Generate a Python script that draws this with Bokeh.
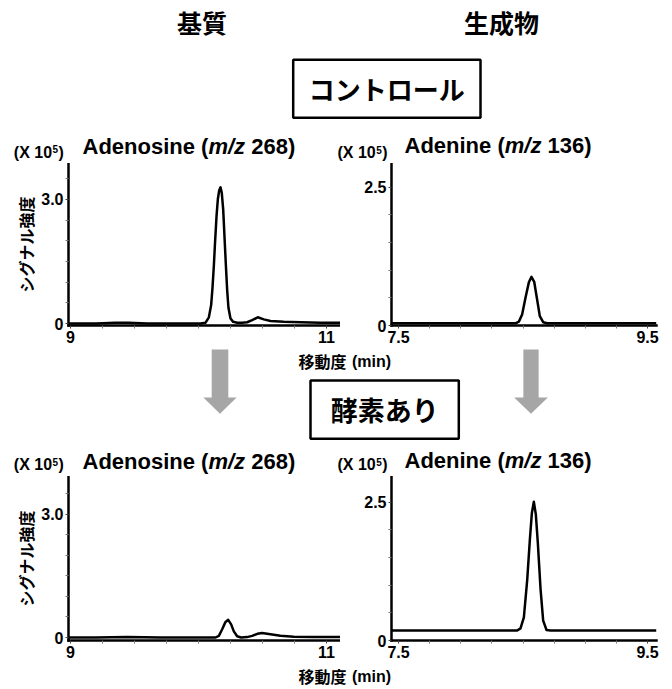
import math
from bokeh.plotting import figure
from bokeh.models import Range1d, FixedTicker, Label
from bokeh.layouts import column, row
from bokeh.embed import file_html
from bokeh.resources import INLINE

# ---------------- data ----------------
column_headers = ["基質", "生成物"]
condition_labels = ["コントロール", "酵素あり"]
compound_names = ["Adenosine", "Adenine"]
mz_values = ["268", "136"]
x_label_jp = "移動度"
x_label_unit = "(min)"
y_label = "シグナル強度"
scale_text = ["(X 10", "5", ")"]

ado_x_ticks = [9.0, 11.0]
ado_x_tick_labels = ["9", "11"]
ado_x_minor = [9.25, 9.5, 9.75, 10.0, 10.25, 10.5, 10.75]
ado_y_ticks = [0.0, 3.0]
ado_y_tick_labels = ["0", "3.0"]
ado_y_minor = [0.5, 1.0, 1.5, 2.0, 2.5, 3.5]

ade_x_ticks = [7.5, 9.5]
ade_x_tick_labels = ["7.5", "9.5"]
ade_x_minor = [7.75, 8.0, 8.25, 8.5, 8.75, 9.0, 9.25]
ade_y_ticks = [0.0, 2.5]
ade_y_tick_labels = ["0", "2.5"]
ade_y_minor = [0.5, 1.0, 1.5, 2.0]

# control: adenosine (m/z 268), intensity x 10^5
ado_ctrl_time = [8.984, 9.20, 9.35, 9.45, 9.60, 9.80, 10.016, 10.055, 10.081,
                 10.099, 10.109, 10.120, 10.130, 10.141, 10.151, 10.162, 10.172,
                 10.182, 10.193, 10.203, 10.214, 10.224, 10.234, 10.250, 10.271,
                 10.302, 10.340, 10.380, 10.419, 10.463, 10.510, 10.5625, 10.667,
                 10.797, 10.953, 11.109]
ado_ctrl_int = [0.00, 0.00, 0.02, 0.02, 0.00, 0.00, 0.00, 0.02, 0.15,
                0.45, 0.85, 1.40, 2.00, 2.60, 3.00, 3.22, 3.29,
                3.15, 2.75, 2.10, 1.40, 0.80, 0.38, 0.12, 0.04,
                0.02, 0.02, 0.03, 0.08, 0.15, 0.10, 0.06, 0.04,
                0.03, 0.02, 0.02]

# control: adenine (m/z 136)
ade_ctrl_time = [7.444, 7.70, 7.90, 8.10, 8.30, 8.440, 8.467, 8.493, 8.520,
                 8.547, 8.568, 8.590, 8.614, 8.635, 8.662, 8.694, 8.90, 9.10,
                 9.30, 9.572]
ade_ctrl_int = [0.04, 0.04, 0.04, 0.04, 0.04, 0.04, 0.07, 0.20, 0.50,
                0.78, 0.88, 0.79, 0.46, 0.17, 0.06, 0.04, 0.04, 0.04,
                0.04, 0.04]

# with enzyme: adenosine (m/z 268)
ado_enz_time = [8.984, 9.20, 9.443, 9.70, 9.95, 10.133, 10.159, 10.185, 10.211,
                10.232, 10.255, 10.276, 10.302, 10.333, 10.380, 10.419, 10.460,
                10.497, 10.5625, 10.640, 10.745, 10.900, 11.109]
ado_enz_int = [0.00, 0.00, 0.01, 0.00, 0.00, 0.00, 0.04, 0.20, 0.38,
               0.43, 0.32, 0.15, 0.03, 0.00, 0.01, 0.04, 0.09,
               0.11, 0.08, 0.04, 0.02, 0.01, 0.01]

# with enzyme: adenine (m/z 136)
ade_enz_time = [7.444, 7.70, 7.95, 8.20, 8.40, 8.453, 8.480, 8.507, 8.534,
                8.555, 8.571, 8.587, 8.603, 8.619, 8.641, 8.662, 8.689, 8.721,
                8.90, 9.20, 9.572]
ade_enz_int = [0.18, 0.18, 0.18, 0.18, 0.18, 0.18, 0.22, 0.42, 1.10,
               1.82, 2.30, 2.51, 2.28, 1.77, 0.93, 0.36, 0.19, 0.18,
               0.18, 0.18, 0.18]

# ---------------- styling helpers ----------------
LAT = "Liberation Sans"
CJK = "Noto Sans CJK JP"
ARROW_GREY = "#a6a6a6"
PAGE_W = 670
MID_FIX = -1.5  # small correction of the "middle" text anchor

# Arial/Liberation Sans Bold advance widths (per 1000 em)
W_BOLD = {" ": 278, "(": 333, ")": 333, "/": 278, "A": 722, "X": 667,
          "d": 611, "e": 556, "i": 278, "m": 889, "n": 611, "o": 611,
          "s": 556, "z": 500}
for _d in "0123456789":
    W_BOLD[_d] = 556


def tw(s, size):
    return sum(W_BOLD.get(c, 556) for c in s) * size / 1000.0


def add_label(p, x, y, text, size, font=LAT, style="bold", align="left", angle=0.0):
    # y is the vertical middle of the text
    p.add_layout(Label(x=x, y=y + MID_FIX, text=text, text_font=font,
                       text_font_size=f"{size}px", text_font_style=style,
                       text_align=align, text_baseline="middle", angle=angle,
                       text_color="black"))


def add_latin(p, x, y_base, text, size, style="bold", align="left"):
    # place latin text by its alphabetic baseline
    add_label(p, x, y_base - 0.35 * size, text, size, font=LAT, style=style, align=align)


def make_panel(box, frame, xcal, ycal, xticks, xtl, xminor, yticks, ytl, yminor,
               time, inten, with_ylabel):
    fx, fy, w, h = box
    L, R, T, B = frame
    xv, xpx, xppu = xcal
    yv, ypx, yppu = ycal
    x0 = xv - (xpx - L) / xppu
    x1 = xv + (R - xpx) / xppu
    y0 = yv - (B - ypx) / yppu
    y1 = yv + (ypx - T) / yppu
    p = figure(width=w, height=h, x_range=Range1d(x0, x1), y_range=Range1d(y0, y1),
               output_backend="svg", toolbar_location=None,
               min_border_left=int(L - fx), min_border_right=int(fx + w - R),
               min_border_top=int(T - fy), min_border_bottom=int(fy + h - B))
    p.outline_line_color = None
    p.background_fill_color = "white"
    p.border_fill_color = "white"
    p.xgrid.visible = False
    p.ygrid.visible = False

    p.xaxis.ticker = FixedTicker(ticks=xticks, minor_ticks=xminor)
    p.xaxis.major_label_overrides = {t: s for t, s in zip(xticks, xtl)}
    p.yaxis.ticker = FixedTicker(ticks=yticks, minor_ticks=yminor)
    p.yaxis.major_label_overrides = {t: s for t, s in zip(yticks, ytl)}
    for ax in (p.xaxis[0], p.yaxis[0]):
        ax.axis_line_width = 2.5
        ax.axis_line_color = "black"
        ax.axis_line_cap = "square"
        ax.major_tick_in = 0
        ax.major_tick_out = 3
        ax.minor_tick_in = 0
        ax.minor_tick_out = 3
        ax.major_tick_line_color = "#444444"
        ax.minor_tick_line_color = "#777777"
        ax.major_label_text_font = LAT
        ax.major_label_text_font_style = "bold"
        ax.major_label_text_font_size = "16px"
        ax.major_label_text_color = "black"
        ax.major_label_standoff = 2
    if with_ylabel:
        p.yaxis.axis_label = y_label
        p.yaxis.axis_label_text_font = CJK
        p.yaxis.axis_label_text_font_style = "bold"
        p.yaxis.axis_label_text_font_size = "16px"
        p.yaxis.axis_label_text_color = "black"
        p.yaxis.axis_label_standoff = 0

    p.line(time, inten, line_width=2.5, line_color="black", line_join="round")
    return p


def deco(y0, y1):
    p = figure(width=PAGE_W, height=int(y1 - y0),
               x_range=Range1d(0, PAGE_W), y_range=Range1d(y1, y0),
               output_backend="svg", toolbar_location=None,
               x_axis_type=None, y_axis_type=None,
               min_border=0, min_border_left=0, min_border_right=0,
               min_border_top=0, min_border_bottom=0)
    p.outline_line_color = None
    p.background_fill_color = "white"
    p.border_fill_color = "white"
    p.grid.visible = False
    return p


def panel_title(p, x, y_base, name, mz, size=22):
    s1 = f"{name} ("
    add_latin(p, x, y_base, s1, size)
    x2 = x + tw(s1, size)
    add_latin(p, x2, y_base, "m/z", size, style="bold italic")
    x3 = x2 + tw("m/z", size) + tw(" ", size)
    add_latin(p, x3, y_base, f"{mz})", size)


def scale_label(p, x, y_base):
    add_latin(p, x, y_base, scale_text[0], 16)
    x2 = x + tw(scale_text[0], 16) + 0.5
    add_latin(p, x2, y_base - 5.5, scale_text[1], 10)
    x3 = x2 + tw(scale_text[1], 10) + 0.5
    add_latin(p, x3, y_base, scale_text[2], 16)


def boxed_text(p, left, right, top, bottom, text, size, ty):
    p.quad(left=[left], right=[right], top=[top], bottom=[bottom],
           fill_color=None, line_color="black", line_width=2.5)
    add_label(p, (left + right) / 2, ty, text, size, font=CJK, align="center")


def x_title(p, y_mid):
    add_label(p, 346, y_mid, x_label_jp, 16, font=CJK, align="right")
    add_label(p, 351.5, y_mid, x_label_unit, 16, font=LAT, align="left")


def down_arrow(p, cx, shaft_w, head_w, top, head_y, tip_y):
    xs = [cx - shaft_w / 2, cx + shaft_w / 2, cx + shaft_w / 2, cx + head_w / 2,
          cx, cx - head_w / 2, cx - shaft_w / 2]
    ys = [top, top, head_y, head_y, tip_y, head_y, head_y]
    p.patch(xs, ys, fill_color=ARROW_GREY, line_color=None)


# ---------------- header ----------------
H = deco(0, 128)
add_label(H, 201.5, 23, column_headers[0], 25, font=CJK, align="center")
add_label(H, 501, 23, column_headers[1], 25, font=CJK, align="center")
boxed_text(H, 292.7, 480, 59.3, 117.3, condition_labels[0], 26, 89.5)

# ---------------- top titles strip ----------------
T1 = deco(128, 163)
panel_title(T1, 82, 155, compound_names[0], mz_values[0])
panel_title(T1, 404, 154, compound_names[1], mz_values[1])
scale_label(T1, 13.3, 159)
scale_label(T1, 337, 159.5)

# ---------------- top panels ----------------
P1 = make_panel((0, 163, 340, 186), (68, 340, 163, 325), (9.0, 70, 128.0), (0.0, 323, 41.4),
                ado_x_ticks, ado_x_tick_labels, ado_x_minor,
                ado_y_ticks, ado_y_tick_labels, ado_y_minor,
                ado_ctrl_time, ado_ctrl_int, True)
P2 = make_panel((340, 163, PAGE_W - 340, 186), (391, 656, 163, 325), (7.5, 398, 124.5), (0.0, 325, 55.3),
                ade_x_ticks, ade_x_tick_labels, ade_x_minor,
                ade_y_ticks, ade_y_tick_labels, ade_y_minor,
                ade_ctrl_time, ade_ctrl_int, False)

# ---------------- middle ----------------
M = deco(349, 446)
x_title(M, 362)
down_arrow(M, 219.5, 16.6, 33.3, 343, 397, 413.3)
down_arrow(M, 530.5, 15.3, 33.7, 343, 397, 413.3)
boxed_text(M, 310, 458.3, 380, 438.3, condition_labels[1], 27, 410)

# ---------------- bottom titles strip ----------------
T2 = deco(446, 476)
panel_title(T2, 82, 470, compound_names[0], mz_values[0])
panel_title(T2, 404, 469, compound_names[1], mz_values[1])
scale_label(T2, 13.3, 471.5)
scale_label(T2, 337, 471.5)

# ---------------- bottom panels ----------------
P3 = make_panel((0, 476, 340, 188), (68, 340, 476, 640), (9.0, 70, 128.0), (0.0, 637, 41.1),
                ado_x_ticks, ado_x_tick_labels, ado_x_minor,
                ado_y_ticks, ado_y_tick_labels, ado_y_minor,
                ado_enz_time, ado_enz_int, True)
P4 = make_panel((340, 476, PAGE_W - 340, 188), (391, 656, 476, 640), (7.5, 398, 124.5), (0.0, 640, 55.3),
                ade_x_ticks, ade_x_tick_labels, ade_x_minor,
                ade_y_ticks, ade_y_tick_labels, ade_y_minor,
                ade_enz_time, ade_enz_int, False)

# ---------------- footer ----------------
F = deco(664, 688)
x_title(F, 677)

layout = column(H, T1, row(P1, P2), M, T2, row(P3, P4), F)
open("out.html", "w").write(file_html(layout, INLINE))
